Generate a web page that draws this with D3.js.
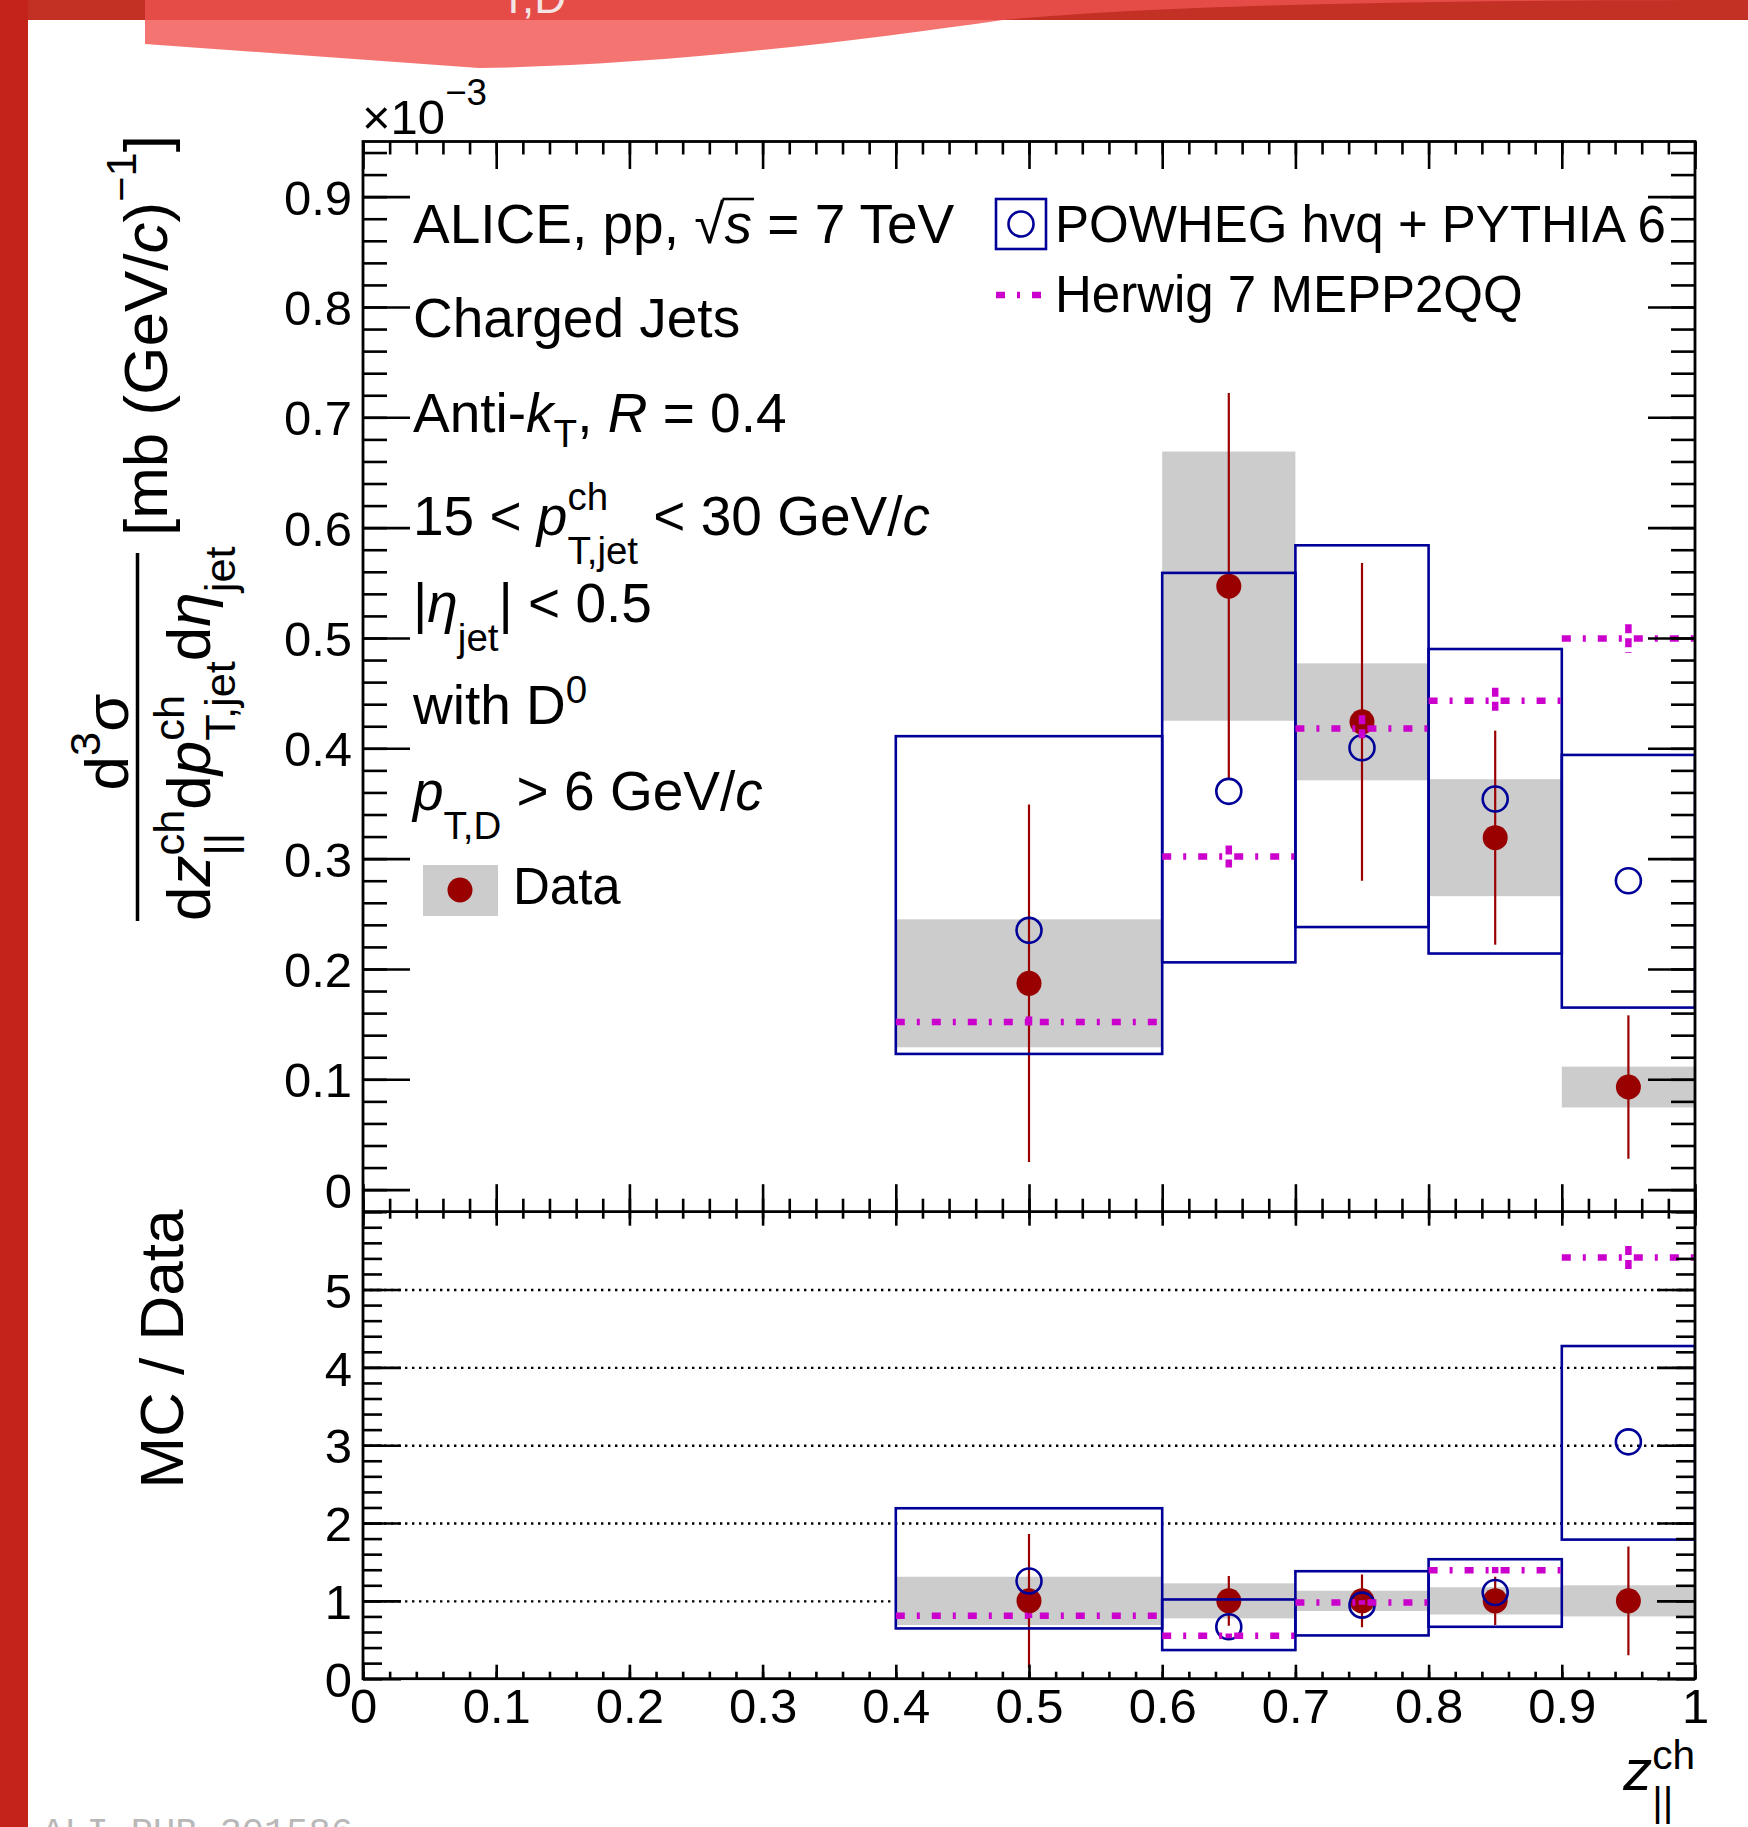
<!DOCTYPE html>
<html>
<head>
<meta charset="utf-8">
<script src="https://cdn.jsdelivr.net/npm/d3@7"></script>
<style>
  body { margin: 0; background: #fff; }
  text { font-family: "Liberation Sans", Arial, Helvetica, sans-serif; white-space: pre; }
</style>
</head>
<body>
<div id="chart-area"></div>
<script>
// z_||^ch distribution of D0-tagged charged jets, ALICE pp 7 TeV
const WIDTH = 1748
const HEIGHT = 1827
const FRAME = {LEFT: 363, RIGHT: 1695, TOP: 141.5, MID: 1211.7, BOTTOM: 1678.7}

// bins
const binLo = [0.4, 0.6, 0.7, 0.8, 0.9]
const binHi = [0.6, 0.7, 0.8, 0.9, 1.0]
const binCenter = [0.5, 0.65, 0.75, 0.85, 0.95]

// cross section, units of 10^-3 mb (GeV/c)^-1
const dataVal = [0.187, 0.547, 0.424, 0.319, 0.093]
const dataStat = [0.162, 0.175, 0.144, 0.097, 0.065]
const dataSyst = [0.058, 0.122, 0.053, 0.053, 0.0185]
const powhegVal = [0.235, 0.361, 0.4005, 0.354, 0.280]
const powhegLo = [0.123, 0.206, 0.238, 0.214, 0.165]
const powhegHi = [0.411, 0.559, 0.584, 0.490, 0.394]
const herwigVal = [0.152, 0.302, 0.418, 0.443, 0.4995]
const herwigErr = [0.005, 0.010, 0.012, 0.012, 0.013]

// MC / Data
const ratioData = [1, 1, 1, 1, 1]
const ratioStat = [0.86, 0.32, 0.34, 0.31, 0.70]
const ratioSyst = [0.31, 0.225, 0.13, 0.175, 0.20]
const powhegRatio = [1.256, 0.667, 0.945, 1.108, 3.043]
const powhegRatioLo = [0.646, 0.368, 0.556, 0.667, 1.787]
const powhegRatioHi = [2.19, 1.018, 1.381, 1.535, 4.274]
const herwigRatio = [0.81, 0.551, 0.979, 1.394, 5.41]
const herwigRatioErr = [0.03, 0.03, 0.03, 0.04, 0.15]

// ticks
const upperTicks = [0, 0.1, 0.2, 0.3, 0.4, 0.5, 0.6, 0.7, 0.8, 0.9]
const upperTickLabels = ["0", "0.1", "0.2", "0.3", "0.4", "0.5", "0.6", "0.7", "0.8", "0.9"]
const lowerTicks = [0, 1, 2, 3, 4, 5]
const lowerTickLabels = ["0", "1", "2", "3", "4", "5"]
const gridLines = [1, 2, 3, 4, 5]
const xTicks = [0, 0.1, 0.2, 0.3, 0.4, 0.5, 0.6, 0.7, 0.8, 0.9, 1]
const xTickLabels = ["0", "0.1", "0.2", "0.3", "0.4", "0.5", "0.6", "0.7", "0.8", "0.9", "1"]

const RED = "#990000", BLUE = "#000099", MAG = "#cc00cc", GREY = "#cccccc"
const HW_DASH = "9,12,3,12"

const svg = d3.select("#chart-area").append("svg")
  .attr("width", WIDTH)
  .attr("height", HEIGHT)
  .style("display", "block")

svg.append("rect").attr("width", WIDTH).attr("height", HEIGHT).attr("fill", "#fff")

// slide decoration
svg.append("rect").attr("width", WIDTH).attr("height", 20).attr("fill", "#c23124")
svg.append("path").attr("d", "M145,0 L145,20 L1003,20 C1150,6 1400,0 1748,0 Z").attr("fill", "#e54b47")
svg.append("path").attr("d", "M145,20 L145,44 L479,68 C650,66 850,42 1003,20 Z").attr("fill", "#f47472")
svg.append("text").attr("x", 500).attr("y", 13).attr("font-size", 44).attr("fill", "#f4e4e4").text("T,D")
svg.append("rect").attr("width", 28).attr("height", HEIGHT).attr("fill", "#c4231a")
svg.append("text").attr("x", 42).attr("y", 1843).attr("font-size", 37)
  .style("font-family", "'Liberation Mono', 'DejaVu Sans Mono', monospace")
  .attr("fill", "#b8b8b8").text("ALI-PUB-301586")

const x = d3.scaleLinear().domain([0, 1]).range([FRAME.LEFT, FRAME.RIGHT])
const yU = d3.scaleLinear().domain([-0.02, 0.95]).range([FRAME.MID, FRAME.TOP])
const yL = d3.scaleLinear().domain([0, 6]).range([FRAME.BOTTOM, FRAME.MID])

const defs = svg.append("defs")
defs.append("clipPath").attr("id", "clipU").append("rect")
  .attr("x", FRAME.LEFT).attr("y", FRAME.TOP)
  .attr("width", FRAME.RIGHT - FRAME.LEFT).attr("height", FRAME.MID - FRAME.TOP)
defs.append("clipPath").attr("id", "clipL").append("rect")
  .attr("x", FRAME.LEFT).attr("y", FRAME.MID)
  .attr("width", FRAME.RIGHT - FRAME.LEFT).attr("height", FRAME.BOTTOM - FRAME.MID)

// text with italic parts, sub/superscripts; returns width
function rich(g, px, py, segs, size, anchor) {
  const grp = g.append("g")
  let cx = 0
  const put = s => {
    const fs = size * (s.sc || 1)
    const t = grp.append("text")
      .attr("x", cx).attr("y", (s.dy || 0) * size)
      .attr("font-size", fs)
      .attr("font-style", s.it ? "italic" : null)
      .attr("fill", "#000")
      .text(s.t)
    const w = t.node().getComputedTextLength()
    if (s.over) {
      grp.append("line").attr("x1", cx - 2).attr("x2", cx + w + 2)
        .attr("y1", -0.8 * fs).attr("y2", -0.8 * fs)
        .attr("stroke", "#000").attr("stroke-width", 2.6)
    }
    return w
  }
  segs.forEach(s => {
    if (s.stack) {
      const start = cx
      const ws = s.stack.map(p => { cx = start; return put(p) })
      cx = start + Math.max(...ws)
    } else {
      cx += put(s)
    }
  })
  const shift = anchor === "end" ? -cx : anchor === "middle" ? -cx / 2 : 0
  grp.attr("transform", `translate(${px + shift},${py})`)
  return cx
}

function drawPanel(g, y, rows) {
  g.selectAll("rect.syst").data(rows).join("rect")
    .attr("class", "syst")
    .attr("x", d => x(d.lo))
    .attr("width", d => x(d.hi) - x(d.lo))
    .attr("y", d => y(d.val + d.syst))
    .attr("height", d => y(d.val - d.syst) - y(d.val + d.syst))
    .attr("fill", GREY)

  g.selectAll("line.stat").data(rows).join("line")
    .attr("class", "stat")
    .attr("x1", d => x(d.c)).attr("x2", d => x(d.c))
    .attr("y1", d => y(d.val + d.stat)).attr("y2", d => y(d.val - d.stat))
    .attr("stroke", RED).attr("stroke-width", 2.2)

  g.selectAll("circle.data").data(rows).join("circle")
    .attr("class", "data")
    .attr("cx", d => x(d.c)).attr("cy", d => y(d.val))
    .attr("r", 12.5).attr("fill", RED)

  g.selectAll("rect.pw").data(rows).join("rect")
    .attr("class", "pw")
    .attr("x", d => x(d.lo))
    .attr("width", d => x(d.hi) - x(d.lo))
    .attr("y", d => y(d.pwHi))
    .attr("height", d => y(d.pwLo) - y(d.pwHi))
    .attr("fill", "none").attr("stroke", BLUE).attr("stroke-width", 2.6)

  g.selectAll("circle.pw").data(rows).join("circle")
    .attr("class", "pw")
    .attr("cx", d => x(d.c)).attr("cy", d => y(d.pw))
    .attr("r", 12.5).attr("fill", "none").attr("stroke", BLUE).attr("stroke-width", 2.6)

  g.selectAll("line.hw").data(rows).join("line")
    .attr("class", "hw")
    .attr("x1", d => x(d.lo)).attr("x2", d => x(d.hi))
    .attr("y1", d => y(d.hw)).attr("y2", d => y(d.hw))
    .attr("stroke", MAG).attr("stroke-width", 6.5).attr("stroke-dasharray", HW_DASH)

  g.selectAll("line.hwErr").data(rows).join("line")
    .attr("class", "hwErr")
    .attr("x1", d => x(d.c)).attr("x2", d => x(d.c))
    .attr("y1", d => y(d.hw + d.hwErr)).attr("y2", d => y(d.hw - d.hwErr))
    .attr("stroke", MAG).attr("stroke-width", 6.5).attr("stroke-dasharray", "9,5")
}

const rowsU = binCenter.map((c, i) => ({
  c, lo: binLo[i], hi: binHi[i],
  val: dataVal[i], stat: dataStat[i], syst: dataSyst[i],
  pw: powhegVal[i], pwLo: powhegLo[i], pwHi: powhegHi[i],
  hw: herwigVal[i], hwErr: herwigErr[i]
}))
const rowsL = binCenter.map((c, i) => ({
  c, lo: binLo[i], hi: binHi[i],
  val: ratioData[i], stat: ratioStat[i], syst: ratioSyst[i],
  pw: powhegRatio[i], pwLo: powhegRatioLo[i], pwHi: powhegRatioHi[i],
  hw: herwigRatio[i], hwErr: herwigRatioErr[i]
}))

// dotted grid in ratio panel
svg.append("g")
  .attr("transform", `translate(${FRAME.LEFT},0)`)
  .call(d3.axisRight(yL).tickValues(gridLines).tickSize(FRAME.RIGHT - FRAME.LEFT).tickFormat(""))
  .call(a => a.select(".domain").remove())
  .selectAll("line").attr("stroke", "#000").attr("stroke-width", 2.4).attr("stroke-dasharray", "2.4,4.6")

drawPanel(svg.append("g").attr("clip-path", "url(#clipU)"), yU, rowsU)
drawPanel(svg.append("g").attr("clip-path", "url(#clipL)"), yL, rowsL)

// tick marks
function tickSet(axisFn, scale, vals, size, tx, ty) {
  svg.append("g").attr("transform", `translate(${tx},${ty})`)
    .call(axisFn(scale).tickValues(vals).tickSize(size).tickFormat(""))
    .call(a => a.select(".domain").remove())
    .selectAll("line").attr("stroke", "#000").attr("stroke-width", 2.6)
}
const yMinorU = d3.range(-0.02, 0.9401, 0.02)
const yMinorL = d3.range(0, 6.001, 0.2)
const xMinor = d3.range(0, 1.0001, 0.02)

tickSet(d3.axisRight, yU, yMinorU, 24, FRAME.LEFT, 0)
tickSet(d3.axisRight, yU, upperTicks, 47, FRAME.LEFT, 0)
tickSet(d3.axisLeft, yU, yMinorU, 24, FRAME.RIGHT, 0)
tickSet(d3.axisLeft, yU, upperTicks, 47, FRAME.RIGHT, 0)
tickSet(d3.axisBottom, x, xMinor, 13, 0, FRAME.TOP)
tickSet(d3.axisBottom, x, xTicks, 27.5, 0, FRAME.TOP)
tickSet(d3.axisTop, x, xMinor, 13, 0, FRAME.MID)
tickSet(d3.axisTop, x, xTicks, 27.5, 0, FRAME.MID)

tickSet(d3.axisRight, yL, yMinorL, 19, FRAME.LEFT, 0)
tickSet(d3.axisRight, yL, lowerTicks, 38, FRAME.LEFT, 0)
tickSet(d3.axisLeft, yL, yMinorL, 19, FRAME.RIGHT, 0)
tickSet(d3.axisLeft, yL, lowerTicks, 38, FRAME.RIGHT, 0)
tickSet(d3.axisBottom, x, xMinor, 7, 0, FRAME.MID)
tickSet(d3.axisBottom, x, xTicks, 14, 0, FRAME.MID)
tickSet(d3.axisTop, x, xMinor, 7, 0, FRAME.BOTTOM)
tickSet(d3.axisTop, x, xTicks, 14, 0, FRAME.BOTTOM)

// frames
svg.append("rect").attr("x", FRAME.LEFT).attr("y", FRAME.TOP)
  .attr("width", FRAME.RIGHT - FRAME.LEFT).attr("height", FRAME.BOTTOM - FRAME.TOP)
  .attr("fill", "none").attr("stroke", "#000").attr("stroke-width", 2.8)
svg.append("line").attr("x1", FRAME.LEFT).attr("x2", FRAME.RIGHT)
  .attr("y1", FRAME.MID).attr("y2", FRAME.MID)
  .attr("stroke", "#000").attr("stroke-width", 2.8)

// tick labels
const LABEL_SIZE = 49
svg.append("g").attr("transform", `translate(${FRAME.LEFT},0)`)
  .call(d3.axisLeft(yU).tickValues(upperTicks).tickSize(0).tickPadding(11)
    .tickFormat((d, i) => upperTickLabels[i]))
  .call(a => a.select(".domain").remove())
  .selectAll("text").attr("font-size", LABEL_SIZE).attr("dy", "0.36em")
svg.append("g").attr("transform", `translate(${FRAME.LEFT},0)`)
  .call(d3.axisLeft(yL).tickValues(lowerTicks).tickSize(0).tickPadding(11)
    .tickFormat((d, i) => lowerTickLabels[i]))
  .call(a => a.select(".domain").remove())
  .selectAll("text").attr("font-size", LABEL_SIZE).attr("dy", "0.36em")
svg.append("g").attr("transform", `translate(0,${FRAME.BOTTOM})`)
  .call(d3.axisBottom(x).tickValues(xTicks).tickSize(0).tickPadding(10)
    .tickFormat((d, i) => xTickLabels[i]))
  .call(a => a.select(".domain").remove())
  .selectAll("text").attr("font-size", LABEL_SIZE).attr("dy", "0.71em")

// x10^-3
rich(svg, 362, 134, [{t: "×10"}, {t: "−3", sc: 0.75, dy: -0.6}], LABEL_SIZE)

// axis titles
const TITLE = 62
rich(svg, FRAME.RIGHT, 1790,
  [{t: "z", it: 1}, {stack: [{t: "ch", sc: 0.7, dy: -0.37}, {t: "||", sc: 0.7, dy: 0.45}]}],
  58, "end")

const tL = svg.append("g").attr("transform", "translate(183,1349) rotate(-90)")
rich(tL, 0, 0, [{t: "MC / Data"}], TITLE, "middle")

const tU = svg.append("g").attr("transform", "rotate(-90)")
rich(tU, -742, 128, [{t: "d"}, {t: "3", sc: 0.7, dy: -0.45}, {t: "σ"}], TITLE, "middle")
svg.append("line").attr("x1", 137.5).attr("x2", 137.5).attr("y1", 553).attr("y2", 921)
  .attr("stroke", "#000").attr("stroke-width", 3.5)
rich(tU, -921, 210, [
  {t: "d"}, {t: "z", it: 1},
  {stack: [{t: "ch", sc: 0.7, dy: -0.42}, {t: "||", sc: 0.7, dy: 0.4}]},
  {t: "d"}, {t: "p", it: 1},
  {stack: [{t: "ch", sc: 0.7, dy: -0.42}, {t: "T,jet", sc: 0.7, dy: 0.4}]},
  {t: "d"}, {t: "η", it: 1}, {t: "jet", sc: 0.7, dy: 0.4}
], TITLE)
rich(tU, -536, 167, [
  {t: "[mb (GeV/"}, {t: "c", it: 1}, {t: ")"}, {t: "−1", sc: 0.7, dy: -0.5}, {t: "]"}
], TITLE)

// text block
const PAVE = 55, PX = 413
rich(svg, PX, 243, [{t: "ALICE, pp, "}, {t: "√"}, {t: "s", it: 1, over: 1}, {t: " = 7 TeV"}], PAVE)
rich(svg, PX, 337, [{t: "Charged Jets"}], PAVE)
rich(svg, PX, 432, [{t: "Anti-"}, {t: "k", it: 1}, {t: "T", sc: 0.7, dy: 0.27}, {t: ", "},
  {t: "R", it: 1}, {t: " = 0.4"}], PAVE)
rich(svg, PX, 535, [{t: "15 < "}, {t: "p", it: 1},
  {stack: [{t: "ch", sc: 0.7, dy: -0.45}, {t: "T,jet", sc: 0.7, dy: 0.52}]},
  {t: " < 30 GeV/"}, {t: "c", it: 1}], PAVE)
rich(svg, PX, 622, [{t: "|"}, {t: "η", it: 1}, {t: "jet", sc: 0.7, dy: 0.52}, {t: "| < 0.5"}], PAVE)
rich(svg, PX, 724, [{t: "with D"}, {t: "0", sc: 0.7, dy: -0.38}], PAVE)
rich(svg, PX, 810, [{t: "p", it: 1}, {t: "T,D", sc: 0.7, dy: 0.52}, {t: " > 6 GeV/"}, {t: "c", it: 1}], PAVE)

// legends
const LEG = 51
svg.append("rect").attr("x", 423).attr("y", 865).attr("width", 75).attr("height", 51).attr("fill", GREY)
svg.append("circle").attr("cx", 460).attr("cy", 890).attr("r", 12.5).attr("fill", RED)
rich(svg, 513, 904, [{t: "Data"}], LEG)

svg.append("rect").attr("x", 996).attr("y", 199).attr("width", 50).attr("height", 50)
  .attr("fill", "none").attr("stroke", BLUE).attr("stroke-width", 2.6)
svg.append("circle").attr("cx", 1021).attr("cy", 224).attr("r", 12.5)
  .attr("fill", "none").attr("stroke", BLUE).attr("stroke-width", 2.6)
rich(svg, 1055, 242, [{t: "POWHEG hvq + PYTHIA 6"}], LEG)
svg.append("line").attr("x1", 996).attr("x2", 1044).attr("y1", 295).attr("y2", 295)
  .attr("stroke", MAG).attr("stroke-width", 6.5).attr("stroke-dasharray", HW_DASH)
rich(svg, 1055, 312, [{t: "Herwig 7 MEPP2QQ"}], LEG)
</script>
</body>
</html>
